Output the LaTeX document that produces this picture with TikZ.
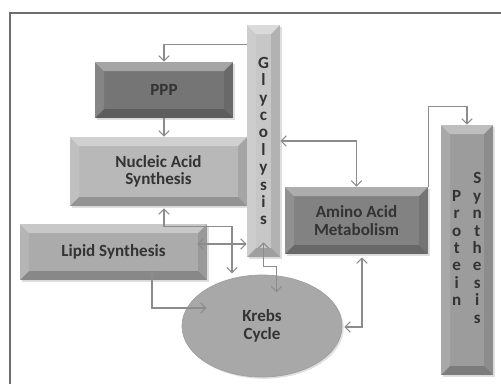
\documentclass[tikz,border=0pt]{standalone}
\usepackage{fontspec}
\setmainfont{Carlito}
\usetikzlibrary{positioning,calc,arrows.meta,shapes.geometric,shadows}

\definecolor{txt}{HTML}{333333}
\definecolor{flowgray}{HTML}{8C8C8C}
\definecolor{framegray}{HTML}{6E6E6E}

\tikzset{
  bevel/.style={path picture={
    \path (path picture bounding box.south west) coordinate (bsw)
          (path picture bounding box.north east) coordinate (bne)
          (bsw |- bne) coordinate (bnw)
          (bne |- bsw) coordinate (bse);
    \fill[white,opacity=.35] (bnw) -- (bne) -- ($(bne)+(-9,9)$) -- ($(bnw)+(9,9)$) -- cycle;
    \fill[black,opacity=.2] (bsw) -- (bse) -- ($(bse)+(-9,-9)$) -- ($(bsw)+(9,-9)$) -- cycle;
    \fill[white,opacity=.12] (bnw) -- (bsw) -- ($(bsw)+(9,-9)$) -- ($(bnw)+(9,9)$) -- cycle;
    \fill[black,opacity=.1] (bne) -- (bse) -- ($(bse)+(-9,-9)$) -- ($(bne)+(-9,9)$) -- cycle;
  }},
  pathway/.style={rectangle,bevel,inner sep=0pt,text=txt,align=center,
    font=\fontsize{9.7}{9.9}\selectfont\bfseries,
    drop shadow={opacity=.25,shadow xshift=1pt,shadow yshift=-1pt}},
  cycle node/.style={ellipse,inner sep=0pt,text=txt,align=center,
    font=\fontsize{9.7}{9.9}\selectfont\bfseries,draw=gray!75,
    drop shadow={opacity=.25,shadow xshift=1pt,shadow yshift=-1pt}},
  flow/.style={draw=flowgray,line width=.6pt,
    arrows={Straight Barb[length=3pt,width=6pt]-Straight Barb[length=3pt,width=6pt]}},
  flowto/.style={draw=flowgray,line width=.6pt,
    arrows={-Straight Barb[length=3pt,width=6pt]}},
}

\begin{document}
\begin{tikzpicture}[x=0.02cm,y=-0.02cm]
	\useasboundingbox (0,0) rectangle (501,383);
	% frame
	\draw[framegray,line width=1.2pt] (10,400) -- (10,13) -- (520,13);

	% nodes
	\node[pathway,fill=black!54,minimum width=138*0.02cm,minimum height=56*0.02cm] (ppp) at (164,90) {PPP};%
	\node[pathway,fill=black!28,minimum width=177*0.02cm,minimum height=69*0.02cm] (nucl) at (158.5,171.5) {Nucleic Acid\\Synthesis};%
	\node[pathway,fill=black!33,minimum width=187*0.02cm,minimum height=56*0.02cm] (lipid) at (113.5,252) {Lipid Synthesis};%
	\node[pathway,fill=black!22,minimum width=33*0.02cm,minimum height=232*0.02cm] (glyc) at (263.5,141) {G\\l\\y\\c\\o\\l\\y\\s\\i\\s};%
	\node[cycle node,fill=black!34,minimum width=160*0.02cm,minimum height=102*0.02cm] (krebs) at (262,326) {Krebs\\Cycle};%
	\node[pathway,fill=black!49,minimum width=143*0.02cm,minimum height=67*0.02cm] (amino) at (356.5,220.5) {Amino Acid\\Metabolism};%
	\node[pathway,fill=black!39,minimum width=52*0.02cm,minimum height=250*0.02cm] (prot) at (467,250)
		{\begin{tabular}{@{}c@{\hspace{6.5pt}}c@{}} & S\\ P & y\\ r & n\\ o & t\\ t & h\\ e & e\\ i & s\\ n & i\\ & s\end{tabular}};%

	% edges
	\draw[flowto] ($(glyc.north west)+(0,20)$) -| (ppp.north);
	\draw[flowto] (ppp.south) -- (ppp.south |- nucl.north);
	\draw[flow] (glyc.east) -| (amino.north);
	\draw[flowto] (amino.north east) -- ++(0,-80) -| (prot.north);
	\draw[flow] ($(lipid.east)+(-10,-8)$) coordinate (l1) -- (l1 -| glyc.west);
	\draw[flow] ($(nucl.south)+(5.5,2)$) -- ++(0,18) -- ++(68,0) -- ++(0,47);
	\draw[flow] ($(lipid.south)+(38.5,-10)$) |- ($(krebs.west)+(25,-18)$);
	\draw[flow] ($(glyc.south)+(0,-15)$) -- ++(0,24) -- ++(13,0) -- ++(0,26);
	\draw[flow] ($(amino.south)+(5.5,3)$) |- ($(krebs.east)+(2,1)$);
\end{tikzpicture}
\end{document}
